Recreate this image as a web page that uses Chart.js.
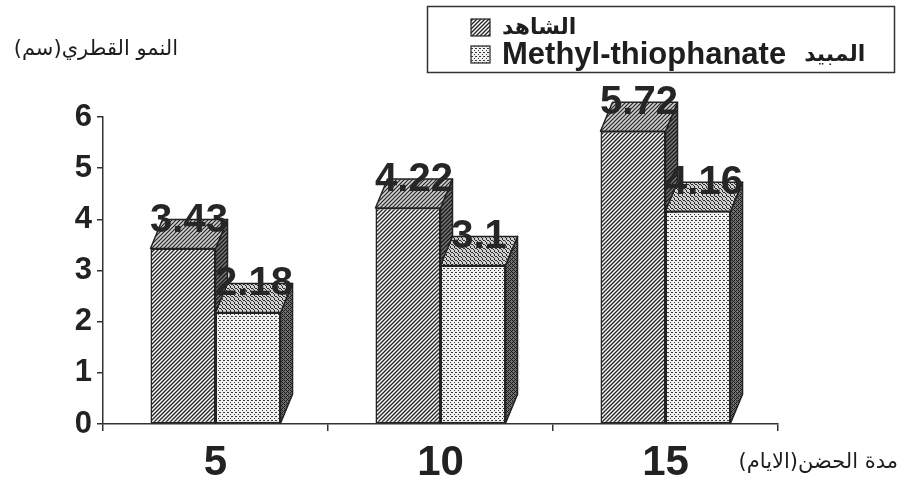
<!DOCTYPE html>
<html>
<head>
<meta charset="utf-8">
<script src="https://cdn.jsdelivr.net/npm/chart.js@4/dist/chart.umd.min.js"></script>
<style>
  html, body { margin: 0; padding: 0; background: #fff; }
  canvas { display: block; }
</style>
</head>
<body>
<canvas id="c" width="905" height="488"></canvas>
<script>
// Incubation period (days) on x, colony diameter (cm) on y
const categories = ['5', '10', '15'];
const controlValues = [3.43, 4.22, 5.72];
const fungicideValues = [2.18, 3.1, 4.16];
const seriesLabels = ['الشاهد', 'Methyl-thiophanate المبيد'];
const yTickValues = [0, 1, 2, 3, 4, 5, 6];
const yTitle = 'النمو القطري(سم)';
const xTitle = 'مدة الحضن(الايام)';

const canvas = document.getElementById('c');
const mainCtx = canvas.getContext('2d');

const LATIN = '"Liberation Sans", Arial, sans-serif';
const ARABIC = '"DejaVu Sans", sans-serif';

// ---- fill patterns ----
function hatch(bg, fg, lw, step) {
  const c = document.createElement('canvas');
  c.width = c.height = step;
  const g = c.getContext('2d');
  g.fillStyle = bg; g.fillRect(0, 0, step, step);
  g.strokeStyle = fg; g.lineWidth = lw;
  g.beginPath();
  g.moveTo(-1, step + 1); g.lineTo(step + 1, -1);
  g.moveTo(-1, 1); g.lineTo(1, -1);
  g.moveTo(step - 1, step + 1); g.lineTo(step + 1, step - 1);
  g.stroke();
  return mainCtx.createPattern(c, 'repeat');
}
function stipple(bg, fg, dots, size) {
  const c = document.createElement('canvas');
  c.width = c.height = size;
  const g = c.getContext('2d');
  g.fillStyle = bg; g.fillRect(0, 0, size, size);
  g.fillStyle = fg;
  dots.forEach(([x, y]) => g.fillRect(x, y, 1, 1));
  return mainCtx.createPattern(c, 'repeat');
}

const faces = [
  {
    front: hatch('#ffffff', '#262626', 1.4, 4),
    top: hatch('#d0d0d0', '#262626', 1.2, 4),
    side: hatch('#7a7a7a', '#1a1a1a', 1.4, 4)
  },
  {
    front: stipple('#f0f0f0', '#3a3a3a', [[0, 0], [2, 2], [3, 0]], 4),
    top: stipple('#d2d2d2', '#2a2a2a', [[0, 0], [2, 2], [1, 1], [3, 0], [2, 3]], 4),
    side: stipple('#707070', '#1a1a1a', [[0, 0], [2, 2], [1, 1], [3, 3], [0, 2], [2, 0]], 4)
  }
];

const DX = 12, DY = 29;

// top and side faces of each bar, painted before the front faces
const depthPlugin = {
  id: 'depth',
  beforeDatasetsDraw(chart) {
    const ctx = chart.ctx;
    ctx.save();
    ctx.lineWidth = 1.5;
    ctx.strokeStyle = '#222';
    ctx.lineJoin = 'round';
    chart.data.datasets.forEach((ds, di) => {
      const meta = chart.getDatasetMeta(di);
      meta.data.forEach(bar => {
        const p = bar.getProps(['x', 'y', 'base', 'width'], true);
        const l = p.x - p.width / 2, r = p.x + p.width / 2;
        // side
        ctx.beginPath();
        ctx.moveTo(r, p.y);
        ctx.lineTo(r + DX, p.y - DY);
        ctx.lineTo(r + DX, p.base - DY);
        ctx.lineTo(r, p.base);
        ctx.closePath();
        ctx.fillStyle = faces[di].side;
        ctx.fill(); ctx.stroke();
        // top
        ctx.beginPath();
        ctx.moveTo(l, p.y);
        ctx.lineTo(l + DX, p.y - DY);
        ctx.lineTo(r + DX, p.y - DY);
        ctx.lineTo(r, p.y);
        ctx.closePath();
        ctx.fillStyle = faces[di].top;
        ctx.fill(); ctx.stroke();
      });
    });
    ctx.restore();
  },
  afterDatasetsDraw(chart) {
    const ctx = chart.ctx;
    ctx.save();
    ctx.font = 'bold 40px ' + LATIN;
    ctx.fillStyle = '#262626';
    ctx.textAlign = 'center';
    ctx.textBaseline = 'middle';
    chart.data.datasets.forEach((ds, di) => {
      const meta = chart.getDatasetMeta(di);
      meta.data.forEach((bar, i) => {
        const p = bar.getProps(['x', 'y'], true);
        ctx.fillText(String(ds.data[i]), p.x + DX / 2, p.y - DY + 1);
      });
    });
    ctx.restore();
  }
};

// mixed Arabic / Latin text, drawn word by word left to right
function drawMixed(ctx, text, x, y, latinFont, arabicFont) {
  const words = text.split(' ');
  let cx = x;
  words.forEach((w, i) => {
    const isArabic = /[\u0600-\u06FF]/.test(w);
    ctx.font = isArabic ? arabicFont : latinFont;
    ctx.direction = isArabic ? 'rtl' : 'ltr';
    ctx.textAlign = 'left';
    ctx.fillText(w, cx, isArabic && words.length > 1 ? y - 3 : y);
    ctx.direction = 'ltr';
    cx += ctx.measureText(w).width + (i < words.length - 1 ? 18 : 0);
  });
}

const annotationPlugin = {
  id: 'annotations',
  afterDraw(chart) {
    const ctx = chart.ctx;
    ctx.save();
    // legend box
    ctx.strokeStyle = '#333';
    ctx.lineWidth = 1.5;
    ctx.strokeRect(427.5, 6.5, 467, 66);
    chart.data.datasets.forEach((ds, di) => {
      const sy = di === 0 ? 19 : 46;
      ctx.fillStyle = faces[di].front;
      ctx.fillRect(471, sy, 19, 17);
      ctx.lineWidth = 1.2;
      ctx.strokeStyle = '#222';
      ctx.strokeRect(471, sy, 19, 17);
      ctx.fillStyle = '#1e1e1e';
      ctx.textBaseline = 'alphabetic';
      drawMixed(ctx, ds.label, 502, di === 0 ? 34 : 64, 'bold 31px ' + LATIN, 'bold 22px ' + ARABIC);
    });
    // axis titles
    ctx.fillStyle = '#1e1e1e';
    ctx.direction = 'rtl';
    ctx.textAlign = 'right';
    ctx.textBaseline = 'alphabetic';
    ctx.font = '21px ' + ARABIC;
    ctx.fillText(yTitle, 178, 55);
    ctx.fillText(xTitle, 898, 468);
    ctx.restore();
  }
};

new Chart(canvas, {
  type: 'bar',
  data: {
    labels: categories,
    datasets: [
      {
        label: seriesLabels[0],
        data: controlValues,
        backgroundColor: faces[0].front,
        borderColor: '#222',
        borderWidth: 1.5,
        borderSkipped: false
      },
      {
        label: seriesLabels[1],
        data: fungicideValues,
        backgroundColor: faces[1].front,
        borderColor: '#222',
        borderWidth: 1.5,
        borderSkipped: false
      }
    ]
  },
  options: {
    responsive: false,
    animation: false,
    events: [],
    layout: { padding: { top: 117, right: 127, left: 0, bottom: 0 } },
    datasets: { bar: { categoryPercentage: 0.578, barPercentage: 1.0 } },
    plugins: {
      legend: { display: false },
      tooltip: { enabled: false }
    },
    scales: {
      x: {
        grid: {
          display: true, drawOnChartArea: false, drawTicks: true,
          tickLength: 7, color: '#333', lineWidth: 1.5, offset: true
        },
        border: { display: true, color: '#333', width: 1.5 },
        ticks: {
          color: '#222',
          font: { family: LATIN, size: 42, weight: 'bold' },
          padding: 7,
          maxRotation: 0
        },
        afterFit(scale) { scale.height = 64; }
      },
      y: {
        min: yTickValues[0],
        max: yTickValues[yTickValues.length - 1],
        afterBuildTicks(scale) { scale.ticks = yTickValues.map(v => ({ value: v })); },
        grid: {
          display: true, drawOnChartArea: false, drawTicks: true,
          tickLength: 6, color: '#333', lineWidth: 1.5
        },
        border: { display: true, color: '#333', width: 1.5 },
        ticks: {
          color: '#222',
          font: { family: LATIN, size: 31, weight: 'bold' },
          padding: 5
        },
        afterFit(scale) { scale.width = 103; }
      }
    }
  },
  plugins: [depthPlugin, annotationPlugin]
});
</script>
</body>
</html>
